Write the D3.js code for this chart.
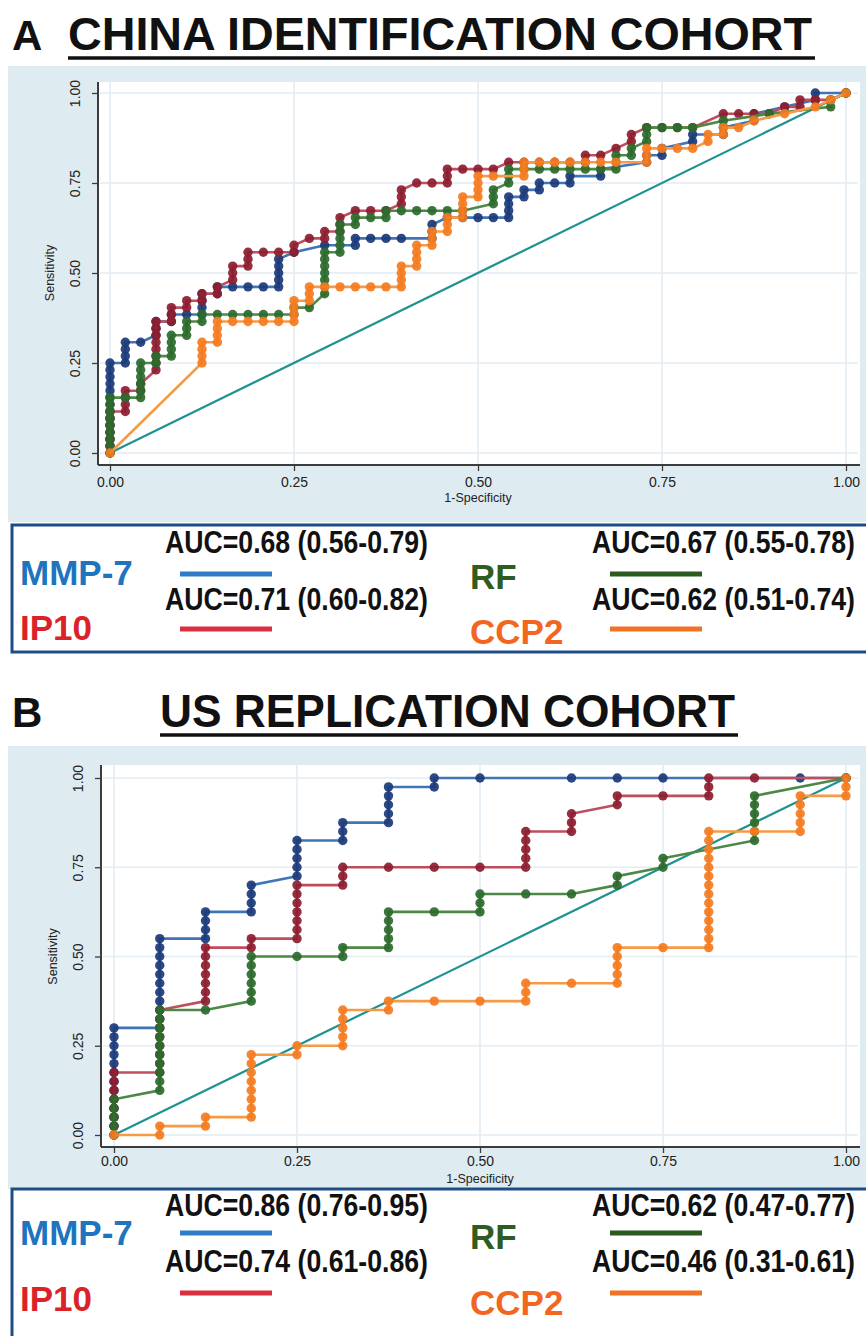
<!DOCTYPE html>
<html>
<head>
<meta charset="utf-8">
<script src="https://cdn.jsdelivr.net/npm/d3@7"></script>
<style>
  body { margin: 0; background: #fff; }
  svg { display: block; }
</style>
</head>
<body>
<svg id="chart" width="866" height="1336"></svg>
<script>
// ---- data ----
const seriesNames = ["MMP-7", "IP10", "RF", "CCP2"];
const tickValues = [0, 0.25, 0.5, 0.75, 1];
const tickLabels = ["0.00", "0.25", "0.50", "0.75", "1.00"];

// China identification cohort: [false positives, [true positives at each cutoff]]
const nPosA = 52, nNegA = 48;
const mmp7A = [
  [0, [0,1,2,3,4,5,6,7,8,9,10,11,12,13]], [1, [13,14,15,16]], [2, [16]], [3, [17,18,19]],
  [4, [19,20]], [5, [20]], [6, [20,21,22,23]], [7, [23,24]], [8, [24]], [9, [24]], [10, [24]],
  [11, [24,25,26,27,28]], [12, [29]], [14, [30]], [16, [30,31]], [17, [31]], [18, [31]], [19, [31]],
  [21, [31,32,33]], [22, [34]], [23, [34]], [24, [34]], [25, [34]], [26, [34,35,36,37]],
  [27, [37,38]], [28, [38,39]], [29, [39]], [30, [39,40]], [32, [40,41]], [35, [42,43]],
  [36, [43,44]], [38, [45,46]], [40, [46,47]], [42, [48,49]], [44, [50]], [46, [51,52]], [48, [52]]
];
const ip10A = [
  [0, [0,1,2,3,4,5,6]], [1, [6,7,8,9]], [2, [9,10]], [3, [12,13,14,15,16,17,18,19]],
  [4, [19,20,21]], [5, [21,22]], [6, [22,23]], [7, [23,24]], [8, [25,26,27]], [9, [27,28,29]],
  [10, [29]], [11, [29]], [12, [29,30]], [13, [31]], [14, [31,32]], [15, [32,33,34]],
  [16, [35]], [17, [35]], [18, [35]], [19, [36,37,38]], [20, [39]], [21, [39]], [22, [39,40,41]],
  [23, [41]], [24, [41]], [25, [41]], [26, [42]], [27, [42]], [28, [42]], [29, [42]], [30, [42]],
  [31, [42,43]], [32, [43]], [33, [44]], [34, [45,46]], [35, [47]], [36, [47]], [37, [47]], [38, [47]],
  [40, [49]], [41, [49]], [42, [49]], [43, [49]], [44, [50]], [45, [50,51]], [46, [51]], [47, [51]], [48, [52]]
];
const rfA = [
  [0, [0,1,2,3,4,5,6,7,8]], [1, [8]], [2, [8,9,10,11,12,13]], [3, [13,14]], [4, [14,15,16,17]],
  [5, [17,18,19]], [6, [19,20]], [7, [20]], [8, [20]], [9, [20]], [10, [20]], [11, [20]],
  [12, [20,21]], [13, [21]], [14, [23,24,25,26,27,28,29]], [15, [29,30,31,32,33]], [16, [33,34]],
  [17, [34]], [18, [34,35]], [19, [35]], [20, [35]], [21, [35]], [22, [35]], [23, [35]],
  [25, [36,37,38]], [26, [39,40,41]], [27, [41]], [28, [41]], [29, [41]], [30, [41]], [31, [41]], [32, [41]],
  [33, [41,42,43]], [34, [43,44]], [35, [45,46,47]], [36, [47]], [37, [47]], [38, [47]],
  [40, [48]], [43, [49]], [47, [50,51]], [48, [52]]
];
const ccp2A = [
  [0, [0]], [6, [13,14,15,16]], [7, [16,17,18,19]], [8, [19]], [9, [19]], [10, [19]], [11, [19]],
  [12, [19,20,21,22]], [13, [22,23,24]], [14, [24]], [15, [24]], [16, [24]], [17, [24]], [18, [24]],
  [19, [24,25,26,27]], [20, [27,28,29,30]], [21, [30,31,32]], [22, [32,33,34]], [23, [34,35,36,37]],
  [24, [37,38,39,40]], [25, [40]], [27, [40,41,42]], [28, [42]], [29, [42]], [30, [42]], [31, [42]],
  [32, [42]], [33, [42]], [35, [42,43,44]], [36, [44]], [37, [44]], [38, [44]], [39, [45,46]],
  [40, [46,47]], [41, [47]], [42, [48]], [44, [49]], [46, [50]], [47, [51]], [48, [52]]
];
const aucA = ["AUC=0.68 (0.56-0.79)", "AUC=0.71 (0.60-0.82)", "AUC=0.67 (0.55-0.78)", "AUC=0.62 (0.51-0.74)"];

// US replication cohort
const nPosB = 40, nNegB = 16;
const mmp7B = [
  [0, [0,1,2,3,4,5,6,7,8,9,10,11,12]], [1, [12,13,14,15,16,17,18,19,20,21,22]], [2, [22,23,24,25]],
  [3, [25,26,27,28]], [4, [29,30,31,32,33]], [5, [33,34,35]], [6, [35,36,37,38,39]], [7, [39,40]],
  [8, [40]], [10, [40]], [11, [40]], [12, [40]], [15, [40]], [16, [40]]
];
const ip10B = [
  [0, [0,1,2,3,4,5,6,7]], [1, [7,8,9,10,11,12,13,14]], [2, [15,16,17,18,19,20,21]], [3, [21,22]],
  [4, [22,23,24,25,26,27,28]], [5, [28,29,30]], [6, [30]], [7, [30]], [8, [30]], [9, [30,31,32,33,34]],
  [10, [34,35,36]], [11, [37,38]], [12, [38]], [13, [38,39,40]], [14, [40]], [16, [40]]
];
const rfB = [
  [0, [0,1,2,3,4]], [1, [5,6,7,8,9,10,11,12,13,14]], [2, [14]], [3, [15,16,17,18,19,20]], [4, [20]],
  [5, [20,21]], [6, [21,22,23,24,25]], [7, [25]], [8, [25,26,27]], [9, [27]], [10, [27]],
  [11, [28,29]], [12, [30,31]], [14, [33,34,35,36,37,38]], [16, [40]]
];
const ccp2B = [
  [0, [0]], [1, [0,1]], [2, [1,2]], [3, [2,3,4,5,6,7,8,9]], [4, [9,10]], [5, [10,11,12,13,14]],
  [6, [14,15]], [7, [15]], [8, [15]], [9, [15,16,17]], [10, [17]], [11, [17,18,19,20,21]], [12, [21]],
  [13, [21,22,23,24,25,26,27,28,29,30,31,32,33,34]], [14, [34]], [15, [34,35,36,37,38]], [16, [38,39,40]]
];
const aucB = ["AUC=0.86 (0.76-0.95)", "AUC=0.74 (0.61-0.86)", "AUC=0.62 (0.47-0.77)", "AUC=0.46 (0.31-0.61)"];

// ---- styles ----
const dotColors = ["#1b3a78", "#8c1d30", "#2b6a2d", "#f47b20"];
const lineColors = ["#3f74b6", "#bf4d5b", "#4d8845", "#f79a45"];
const legendText = ["#1f74c0", "#dc2229", "#2f5c1f", "#f2661f"];
const legendLine = ["#2f7cc6", "#d8303e", "#2b5a1e", "#f07128"];
const diagColor = "#1f9191";
const bgBlue = "#deebf1";
const gridColor = "#e2edf4";
const axisColor = "#3c3c3c";
const sans = "Liberation Sans, Arial, sans-serif";

const svg = d3.select("#chart");

function toPoints(series, nPos, nNeg) {
  return series.flatMap(([fp, tps]) => tps.map(tp => [fp / nNeg, tp / nPos]));
}

function drawTitle(letter, title, y, x0, x1) {
  svg.append("text").attr("x", 12).attr("y", y)
    .attr("font-family", sans).attr("font-weight", "bold")
    .attr("font-size", 42).attr("fill", "#111").text(letter);
  svg.append("text").attr("x", x0).attr("y", y)
    .attr("font-family", sans).attr("font-weight", "bold")
    .attr("font-size", 46).attr("fill", "#111")
    .attr("textLength", x1 - x0).attr("lengthAdjust", "spacingAndGlyphs").text(title);
  svg.append("line").attr("x1", x0).attr("x2", x1 + 3).attr("y1", y + 8).attr("y2", y + 8)
    .attr("stroke", "#111").attr("stroke-width", 3.5);
}

function drawPanel(p) {
  const x = d3.scaleLinear().domain([0, 1]).range([p.x0, p.x1]);
  const y = d3.scaleLinear().domain([0, 1]).range([p.y0, p.y1]);
  const g = svg.append("g");

  // graph region + plot region
  g.append("rect").attr("x", 8).attr("y", p.bgTop).attr("width", 866).attr("height", p.bgBottom - p.bgTop)
    .attr("fill", bgBlue);
  g.append("rect").attr("x", p.axisX).attr("y", p.plotTop).attr("width", 860 - p.axisX)
    .attr("height", p.axisY - p.plotTop).attr("fill", "#fff");

  // grid
  g.selectAll(".hgrid").data(tickValues).enter().append("line")
    .attr("x1", p.axisX + 2).attr("x2", 858).attr("y1", d => y(d)).attr("y2", d => y(d))
    .attr("stroke", gridColor).attr("stroke-width", 1.6);
  g.selectAll(".vgrid").data(tickValues).enter().append("line")
    .attr("y1", p.plotTop).attr("y2", p.axisY - 1).attr("x1", d => x(d)).attr("x2", d => x(d))
    .attr("stroke", gridColor).attr("stroke-width", 1.6);

  // axes
  const yAxis = g.append("g").attr("transform", `translate(${p.axisX},0)`)
    .call(d3.axisLeft(y).tickValues(tickValues).tickFormat((d, i) => tickLabels[i]).tickSize(6));
  yAxis.select(".domain").remove();
  yAxis.selectAll("line").attr("stroke", axisColor).attr("stroke-width", 1.3);
  yAxis.selectAll("text").attr("x", 0).attr("dy", 0)
    .attr("transform", "translate(-18,0) rotate(-90)").attr("text-anchor", "middle")
    .attr("font-family", sans).attr("font-size", 14).attr("fill", "#222");

  const xAxis = g.append("g").attr("transform", `translate(0,${p.axisY})`)
    .call(d3.axisBottom(x).tickValues(tickValues).tickFormat((d, i) => tickLabels[i]).tickSize(6).tickPadding(p.tickPad));
  xAxis.select(".domain").remove();
  xAxis.selectAll("line").attr("stroke", axisColor).attr("stroke-width", 1.3);
  xAxis.selectAll("text").attr("font-family", sans).attr("font-size", 14).attr("fill", "#222");

  g.append("line").attr("x1", p.axisX).attr("x2", p.axisX).attr("y1", p.plotTop).attr("y2", p.axisY)
    .attr("stroke", axisColor).attr("stroke-width", 2);
  g.append("line").attr("x1", p.axisX).attr("x2", 860).attr("y1", p.axisY).attr("y2", p.axisY)
    .attr("stroke", axisColor).attr("stroke-width", 2);

  g.append("text").attr("x", (p.x0 + p.x1) / 2).attr("y", p.axisY + p.xLabelOffset).attr("text-anchor", "middle")
    .attr("font-family", sans).attr("font-size", 12.5).attr("fill", "#222")
    .text("1-Specificity");
  g.append("text").attr("transform", `translate(${p.axisX - 44},${(p.y0 + p.y1) / 2}) rotate(-90)`)
    .attr("text-anchor", "middle")
    .attr("font-family", sans).attr("font-size", 12.5).attr("fill", "#222")
    .text("Sensitivity");

  // reference line
  g.append("line").attr("x1", x(0)).attr("y1", y(0)).attr("x2", x(1)).attr("y2", y(1))
    .attr("stroke", diagColor).attr("stroke-width", 2.2);

  const line = d3.line().x(d => x(d[0])).y(d => y(d[1]));
  p.series.forEach((s, i) => {
    const pts = toPoints(s, p.nPos, p.nNeg);
    g.append("path").datum(pts).attr("d", line).attr("fill", "none")
      .attr("stroke", lineColors[i]).attr("stroke-width", 2.6);
    g.selectAll(".dot" + i).data(pts).enter().append("circle")
      .attr("cx", d => x(d[0])).attr("cy", d => y(d[1])).attr("r", 4.7)
      .attr("fill", dotColors[i]).attr("fill-opacity", 0.92);
  });
}

function drawLegend(p, auc) {
  const g = svg.append("g");
  g.append("rect").attr("x", 12).attr("y", p.top).attr("width", 870).attr("height", p.bottom - p.top)
    .attr("fill", "#fff").attr("stroke", "#1d4c86").attr("stroke-width", 3);
  const cols = [
    { lx: 20, ax: 165, sx: 180 },
    { lx: 470, ax: 592, sx: 610 }
  ];
  // MMP-7 / IP10 in left column, RF / CCP2 in right column
  const order = [[0, 0, 0], [1, 0, 1], [2, 1, 0], [3, 1, 1]];
  order.forEach(([i, c, r]) => {
    const col = cols[c];
    // condensed bold text, squeezed horizontally
    g.append("text").attr("transform", `translate(${col.ax},${p.aucY[r]}) scale(0.86,1)`)
      .attr("font-family", sans).attr("font-weight", "bold").attr("font-size", 31).attr("fill", "#111")
      .text(auc[i]);
    g.append("line").attr("x1", col.sx).attr("x2", col.sx + 92).attr("y1", p.lineY[r]).attr("y2", p.lineY[r])
      .attr("stroke", legendLine[i]).attr("stroke-width", 5);
    g.append("text").attr("x", col.lx).attr("y", p.labY[r] + (c === 1 ? 4 : 0))
      .attr("font-family", sans).attr("font-weight", "bold")
      .attr("font-size", 35).attr("fill", legendText[i]).text(seriesNames[i]);
  });
}

drawTitle("A", "CHINA IDENTIFICATION COHORT", 50, 68, 812);
drawPanel({
  series: [mmp7A, ip10A, rfA, ccp2A], nPos: nPosA, nNeg: nNegA,
  x0: 110, x1: 846, y0: 453, y1: 93,
  axisX: 98, axisY: 465, plotTop: 82, bgTop: 66, bgBottom: 522, xLabelOffset: 37, tickPad: 6
});
drawLegend({ top: 525, bottom: 652, aucY: [553, 610], lineY: [574, 629], labY: [585, 640] }, aucA);

drawTitle("B", "US REPLICATION COHORT", 727, 160, 735);
drawPanel({
  series: [mmp7B, ip10B, rfB, ccp2B], nPos: nPosB, nNeg: nNegB,
  x0: 114, x1: 846, y0: 1135, y1: 778,
  axisX: 101, axisY: 1147, plotTop: 765, bgTop: 746, bgBottom: 1189, xLabelOffset: 36, tickPad: 3
});
drawLegend({ top: 1189, bottom: 1345, aucY: [1216, 1272], lineY: [1233, 1293], labY: [1245, 1311] }, aucB);
</script>
</body>
</html>
